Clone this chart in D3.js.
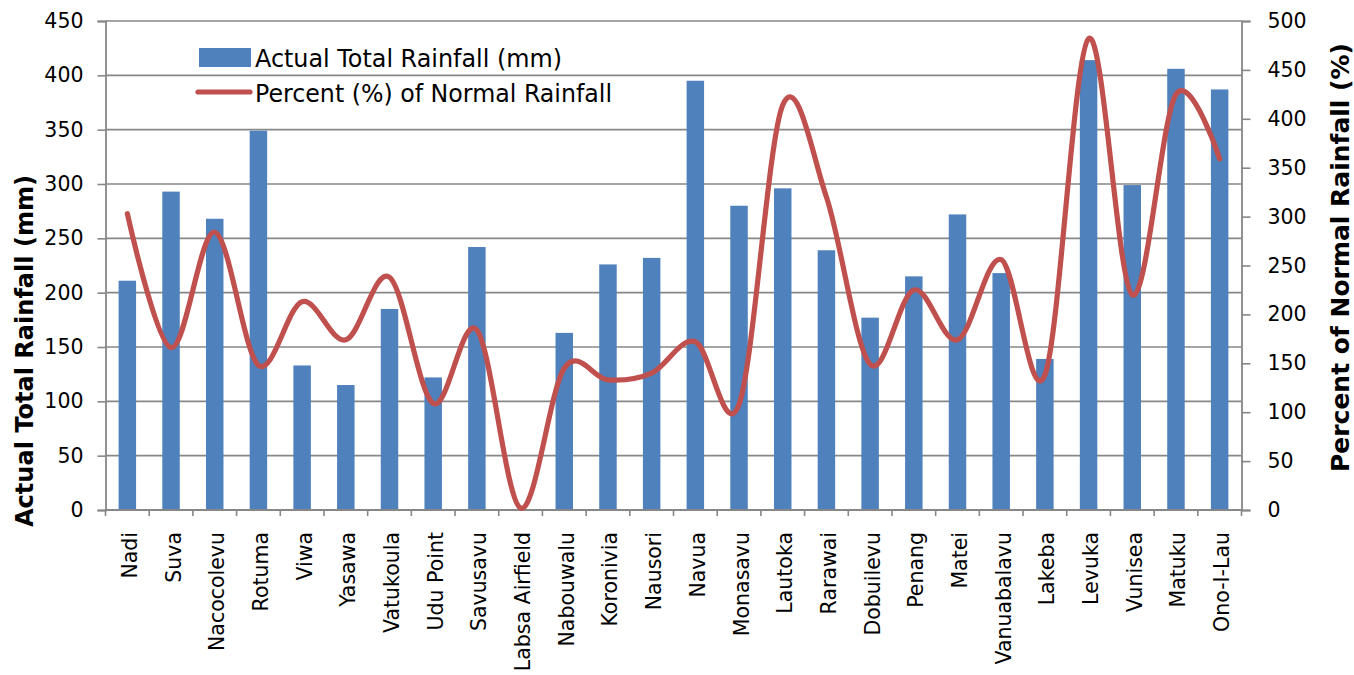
<!DOCTYPE html>
<html>
<head>
<meta charset="utf-8">
<script src="https://cdn.jsdelivr.net/npm/d3@7"></script>
<style>
  html, body { margin: 0; padding: 0; background: #ffffff; }
  svg { display: block; }
  text { font-family: "DejaVu Sans", sans-serif; fill: #000; }
</style>
</head>
<body>
<svg id="chart" width="1354" height="675"></svg>
<script>
// Rainfall stations
const stations = ["Nadi", "Suva", "Nacocolevu", "Rotuma", "Viwa", "Yasawa", "Vatukoula",
  "Udu Point", "Savusavu", "Labsa Airfield", "Nabouwalu", "Koronivia", "Nausori", "Navua",
  "Monasavu", "Lautoka", "Rarawai", "Dobuilevu", "Penang", "Matei", "Vanuabalavu", "Lakeba",
  "Levuka", "Vunisea", "Matuku", "Ono-I-Lau"];

// Actual total rainfall (mm)
const actualRainfall = [211, 293, 268, 349, 133, 115, 185, 122, 242, 0, 163, 226, 232, 395,
  280, 296, 239, 177, 215, 272, 218, 139, 414, 299, 406, 387];

// Percent (%) of normal rainfall
const percentOfNormal = [303, 166, 284, 148, 213, 174, 238, 109, 184, 2, 145, 133, 140, 172,
  108, 414, 320, 149, 225, 174, 256, 138, 482, 220, 425, 359];

// Axis tick values
const leftTicks = [0, 50, 100, 150, 200, 250, 300, 350, 400, 450];
const rightTicks = [0, 50, 100, 150, 200, 250, 300, 350, 400, 450, 500];

const svg = d3.select("#chart");
const plot = { left: 105.5, right: 1241.5, top: 21, bottom: 510 };

const x = d3.scaleBand().domain(stations).range([plot.left, plot.right])
  .paddingInner(0.6).paddingOuter(0.3);
const yLeft = d3.scaleLinear().domain([0, 450]).range([plot.bottom, plot.top]);
const yRight = d3.scaleLinear().domain([0, 500]).range([plot.bottom, plot.top]);

const gridColor = "#878787";

// horizontal gridlines
svg.append("g")
  .selectAll("line")
  .data(leftTicks.filter(d => d > 0))
  .join("line")
  .attr("x1", plot.left).attr("x2", plot.right)
  .attr("y1", d => yLeft(d)).attr("y2", d => yLeft(d))
  .attr("stroke", gridColor).attr("stroke-width", 1.6);

// bars
svg.append("g")
  .selectAll("rect")
  .data(stations)
  .join("rect")
  .attr("x", d => x(d))
  .attr("width", x.bandwidth())
  .attr("y", (d, i) => yLeft(actualRainfall[i]))
  .attr("height", (d, i) => yLeft(0) - yLeft(actualRainfall[i]))
  .attr("fill", "#4F81BD");

// left axis
const leftAxis = svg.append("g")
  .attr("transform", `translate(${plot.left},0)`)
  .call(d3.axisLeft(yLeft).tickValues(leftTicks).tickSize(8).tickPadding(14));
leftAxis.select(".domain").attr("stroke", gridColor).attr("stroke-width", 1.8);
leftAxis.selectAll(".tick line").attr("stroke", gridColor).attr("stroke-width", 1.6);
leftAxis.selectAll(".tick text").style("font-size", "20.5px").attr("fill", "#000");

// right axis
const rightAxis = svg.append("g")
  .attr("transform", `translate(${plot.right},0)`)
  .call(d3.axisRight(yRight).tickValues(rightTicks).tickSize(9).tickPadding(17));
rightAxis.select(".domain").attr("stroke", gridColor).attr("stroke-width", 1.8);
rightAxis.selectAll(".tick line").attr("stroke", gridColor).attr("stroke-width", 1.6);
rightAxis.selectAll(".tick text").style("font-size", "20.5px").attr("fill", "#000");

// category axis: baseline, boundary ticks and rotated labels
const gap = (x.step() - x.bandwidth()) / 2;
const bottom = svg.append("g");
bottom.append("line")
  .attr("x1", plot.left).attr("x2", plot.right)
  .attr("y1", plot.bottom).attr("y2", plot.bottom)
  .attr("stroke", gridColor).attr("stroke-width", 1.8);
const boundaries = stations.map(d => x(d) - gap)
  .concat([x(stations[stations.length - 1]) + x.bandwidth() + gap]);
bottom.selectAll("line.bound")
  .data(boundaries)
  .join("line")
  .attr("class", "bound")
  .attr("x1", d => d).attr("x2", d => d)
  .attr("y1", plot.bottom).attr("y2", plot.bottom + 6)
  .attr("stroke", gridColor).attr("stroke-width", 1.6);
bottom.selectAll("text")
  .data(stations)
  .join("text")
  .attr("transform", d => `translate(${x(d) + x.bandwidth() / 2 + 9.5},${plot.bottom + 22}) rotate(-90)`)
  .attr("text-anchor", "end")
  .style("font-size", "20.5px")
  .text(d => d);

// percent-of-normal line (smoothed)
const line = d3.line()
  .x((d, i) => x(stations[i]) + x.bandwidth() / 2)
  .y(d => yRight(d))
  .curve(d3.curveCatmullRom.alpha(0));
svg.append("path")
  .datum(percentOfNormal)
  .attr("d", line)
  .attr("fill", "none")
  .attr("stroke", "#C0504D")
  .attr("stroke-width", 5.2)
  .attr("stroke-linecap", "round")
  .attr("stroke-linejoin", "round");

// legend
const legend = svg.append("g");
legend.append("rect")
  .attr("x", 199).attr("y", 48).attr("width", 52).attr("height", 19)
  .attr("fill", "#4F81BD");
legend.append("text")
  .attr("x", 255).attr("y", 66.5)
  .style("font-size", "24px")
  .attr("textLength", 307).attr("lengthAdjust", "spacingAndGlyphs")
  .text("Actual Total Rainfall (mm)");
legend.append("line")
  .attr("x1", 198).attr("x2", 250).attr("y1", 92).attr("y2", 92)
  .attr("stroke", "#C0504D").attr("stroke-width", 5.2).attr("stroke-linecap", "round");
legend.append("text")
  .attr("x", 255).attr("y", 101.5)
  .style("font-size", "24px")
  .attr("textLength", 357).attr("lengthAdjust", "spacingAndGlyphs")
  .text("Percent (%) of Normal Rainfall");

// axis titles
svg.append("text")
  .attr("transform", "translate(33,351) rotate(-90)")
  .attr("text-anchor", "middle")
  .style("font-size", "24px").style("font-weight", "bold")
  .attr("textLength", 352).attr("lengthAdjust", "spacingAndGlyphs")
  .text("Actual Total Rainfall (mm)");
svg.append("text")
  .attr("transform", "translate(1349,257.5) rotate(-90)")
  .attr("text-anchor", "middle")
  .style("font-size", "25px").style("font-weight", "bold")
  .attr("textLength", 429).attr("lengthAdjust", "spacingAndGlyphs")
  .text("Percent of Normal Rainfall (%)");
</script>
</body>
</html>
